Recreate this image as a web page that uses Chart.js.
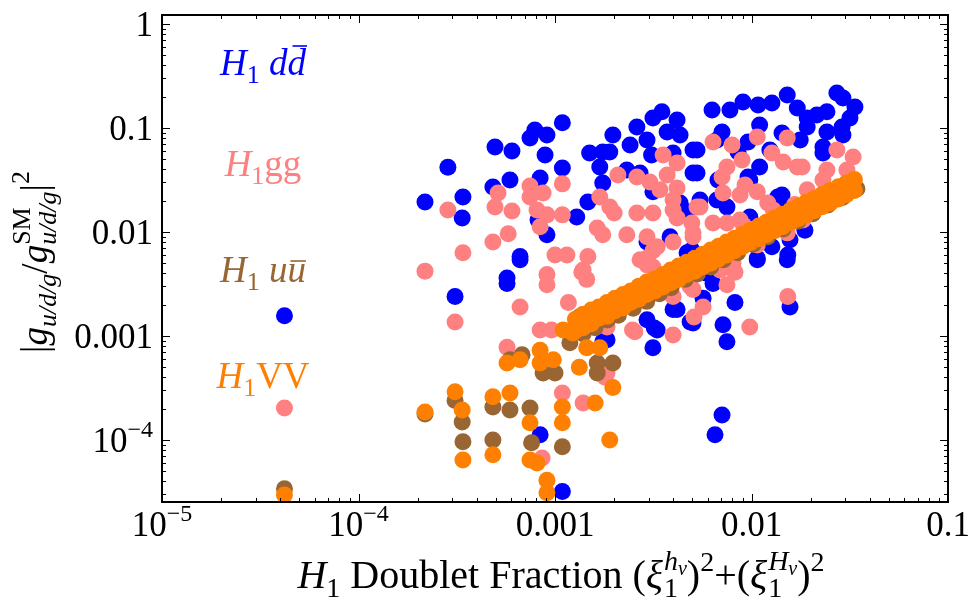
<!DOCTYPE html>
<html>
<head>
<meta charset="utf-8">
<script src="https://cdn.jsdelivr.net/npm/chart.js@4.4.1/dist/chart.umd.min.js"></script>
<style>
  html, body { margin: 0; padding: 0; background: #fff; }
  #wrap { width: 971px; height: 603px; }
</style>
</head>
<body>
<div id="wrap"><canvas id="chart" width="971" height="603"></canvas></div>
<script>
// axis ranges and tick labels
const xMin = 1e-5, xMax = 0.1;
const yMin = 2.53e-5, yMax = 1.22;
const xTickValues = [1e-5, 1e-4, 1e-3, 1e-2, 1e-1];
const xTickLabels = ['10^\u22125', '10^\u22124', '0.001', '0.01', '0.1'];
const yTickValues = [1e-4, 1e-3, 1e-2, 1e-1, 1];
const yTickLabels = ['10^\u22124', '0.001', '0.01', '0.1', '1'];

const seriesColors = ['#0000ff', '#ff8080', '#996633', '#ff8000'];

// [doublet fraction, |g/g_SM|^2]  -- H1 d dbar
const ddPoints = [
  [4.2e-5, 1.56e-3], [2.18e-4, 0.0194], [2.85e-4, 0.042], [3.4e-4, 0.0217], [3.37e-4, 0.0136],
  [3.1e-4, 2.4e-3], [4.95e-4, 0.0657], [6.04e-4, 0.0601], [4.83e-4, 0.0271], [5.9e-4, 0.0316],
  [7.9e-4, 0.0957], [9.1e-4, 0.0857], [7.46e-4, 0.0801], [1.09e-3, 0.112], [8.9e-4, 0.055],
  [1.09e-3, 0.0413], [8.4e-4, 0.0331], [9.1e-4, 0.0094], [6.64e-4, 5.8e-3], [5.7e-4, 3.6e-3],
  [8.2e-4, 0.013], [1.29e-3, 0.0139], [1.47e-3, 0.0194], [1.5e-3, 0.0575], [1.75e-3, 0.0588],
  [1.9e-3, 0.0588], [1.69e-3, 0.0422], [1.75e-3, 0.0296], [1.97e-3, 0.0857], [2.61e-3, 0.102],
  [2.41e-3, 0.0687], [2.94e-3, 0.0767], [3.15e-3, 0.125], [3.5e-3, 0.143], [4.18e-3, 0.119],
  [3.72e-3, 0.0916], [4.33e-3, 0.0857], [3.1e-3, 0.055], [2.32e-3, 0.0395], [2.71e-3, 0.0369],
  [3.15e-3, 0.0243], [3.99e-3, 0.0575], [4.33e-3, 0.019], [5.04e-3, 0.0614], [5.04e-3, 0.0369],
  [4.7e-3, 0.0156], [2.94e-3, 8.0e-3], [3.85e-3, 9.0e-3], [4.7e-3, 6.3e-3], [5.7e-4, 3.2e-3],
  [6.64e-4, 5.4e-3], [8.4e-4, 1.12e-4], [1.09e-3, 3.2e-5], [1.84e-3, 9.2e-4], [3.15e-3, 7.7e-4],
  [2.94e-3, 1.43e-3], [3.99e-3, 1.8e-3], [4.87e-3, 1.36e-3], [3.2e-3, 1.19e-3], [6.3e-3, 0.149],
  [7.77e-3, 0.149], [9.05e-3, 0.178], [0.0108, 0.166], [0.0127, 0.174], [0.0152, 0.208],
  [0.0171, 0.156], [0.0192, 0.125], [0.0215, 0.133], [0.0242, 0.143], [0.0272, 0.217],
  [0.0292, 0.194], [0.0336, 0.159], [0.0317, 0.125], [0.0289, 0.102], [0.0242, 0.0916],
  [0.0231, 0.0657], [0.0292, 0.0857], [0.0192, 0.102], [0.0177, 0.0767], [0.0143, 0.0895],
  [0.011, 0.107], [9.6e-3, 0.0733], [8.54e-3, 0.0588], [7.08e-3, 0.0916], [6.67e-3, 0.0767],
  [5.28e-3, 0.0614], [5.28e-3, 0.0369], [6.75e-3, 0.0316], [9.6e-3, 0.0338], [0.011, 0.0422],
  [0.0124, 0.0614], [5.47e-3, 0.0203], [6.67e-3, 0.0203], [7.5e-3, 0.0174], [9.8e-3, 0.0139],
  [0.0136, 0.0217], [0.014, 0.0174], [0.0187, 0.0104], [0.0157, 8.4e-3], [0.0153, 6.0e-3],
  [0.0127, 7.2e-3], [0.0107, 5.6e-3], [6.37e-3, 3.2e-3], [8.24e-3, 2.1e-3], [7.16e-3, 1.28e-3],
  [7.5e-3, 8.8e-4], [0.0157, 1.9e-3], [7.08e-3, 1.74e-4], [6.52e-3, 1.12e-4], [0.0107, 5.4e-3],
  [0.0152, 5.4e-3], [5.67e-3, 2.3e-3], [5.04e-3, 1.33e-3], [4.97e-3, 6.7e-3], [5.9e-3, 4.0e-3],
  [3.31e-3, 1.14e-3], [1.75e-3, 8.8e-4], [4.18e-3, 1.8e-3], [0.0143, 0.0227], [9.8e-3, 0.0316],
  [0.0231, 0.0575]
];

// H1 gg
const ggPoints = [
  [4.2e-5, 2.03e-4], [2.18e-4, 4.2e-3], [2.85e-4, 0.0163], [5.13e-4, 0.0237], [4.95e-4, 0.0174],
  [6.04e-4, 0.0159], [4.83e-4, 8.0e-3], [5.78e-4, 9.6e-3], [3.4e-4, 6.3e-3], [7.46e-4, 0.0277],
  [8.7e-4, 0.0237], [1.09e-3, 0.029], [7.46e-4, 0.0217], [8.1e-4, 0.0163], [9.1e-4, 0.0146],
  [1.09e-3, 0.0146], [8.4e-4, 0.0112], [1.0e-3, 6.0e-3], [9.1e-4, 3.9e-3], [1.47e-3, 5.8e-3],
  [1.37e-3, 4.1e-3], [1.69e-3, 0.0217], [1.9e-3, 0.0174], [2.0e-3, 0.0152], [1.64e-3, 0.0109],
  [1.75e-3, 9.4e-3], [2.32e-3, 9.4e-3], [2.09e-3, 0.0353], [2.61e-3, 0.0338], [3.04e-3, 0.0303],
  [3.42e-3, 0.0254], [3.55e-3, 0.055], [4.18e-3, 0.0461], [3.72e-3, 0.0353], [4.18e-3, 0.0265],
  [3.99e-3, 0.0203], [3.99e-3, 0.0163], [4.18e-3, 0.0136], [2.61e-3, 0.0152], [3.15e-3, 0.0152],
  [2.94e-3, 9.0e-3], [3.31e-3, 7.2e-3], [2.94e-3, 5.6e-3], [3.15e-3, 4.6e-3], [3.99e-3, 8.0e-3],
  [5.04e-3, 9.8e-3], [5.28e-3, 0.0174], [3.1e-4, 1.36e-3], [6.64e-4, 1.9e-3], [9.1e-4, 3.1e-3],
  [1.17e-3, 2.1e-3], [5.7e-4, 7.8e-4], [8.4e-4, 1.14e-3], [9.6e-4, 1.14e-3], [1.09e-3, 2.83e-4],
  [1.39e-3, 2.27e-4], [1.8e-3, 4.0e-4], [8.6e-4, 6.7e-5], [2.48e-3, 1.14e-3], [3.99e-3, 1.02e-3],
  [1.39e-3, 4.3e-3], [1.45e-3, 3.5e-3], [2.94e-3, 4.8e-3], [6.37e-3, 0.0733], [7.96e-3, 0.0687],
  [0.0107, 0.0819], [0.0152, 0.0801], [0.0127, 0.0575], [0.0145, 0.0471], [0.0171, 0.0422],
  [0.0181, 0.0422], [7.5e-3, 0.0422], [8.95e-3, 0.0492], [7.08e-3, 0.0338], [7.16e-3, 0.0237],
  [8.74e-3, 0.0227], [0.0107, 0.0243], [9.27e-3, 0.0283], [5.47e-3, 0.0174], [4.97e-3, 0.0122],
  [6.37e-3, 0.0122], [7.5e-3, 0.0122], [8.74e-3, 0.013], [0.0121, 0.019], [0.0129, 0.0163],
  [0.0163, 0.0163], [0.0183, 0.013], [0.0152, 9.8e-3], [0.0107, 7.5e-3], [8.05e-3, 5.0e-3],
  [5.28e-3, 4.0e-3], [0.0272, 0.0614], [0.0329, 0.0526], [0.0242, 0.0395], [0.0231, 0.0316],
  [0.0192, 0.0254], [0.0306, 0.0395], [0.0282, 0.0243], [0.0153, 2.4e-3], [9.8e-3, 1.22e-3],
  [7.5e-3, 3.1e-3], [8.24e-3, 4.1e-3], [5.67e-3, 1.9e-3], [5.1e-3, 1.52e-3], [5.04e-3, 2.8e-3],
  [2.55e-3, 1.1e-3], [1.84e-3, 1.22e-3], [1.84e-3, 4.4e-4], [1.15e-3, 6.0e-3],
  [2.71e-3, 5.4e-3], [3.15e-3, 6.6e-3], [5.04e-3, 9.0e-3], [6.92e-3, 4.3e-3], [4.87e-3, 3.0e-3],
  [3.99e-3, 2.4e-3], [9.1e-3, 0.0116], [0.0103, 0.0106], [0.0118, 0.0101], [0.0133, 0.0123],
  [0.0166, 0.0184]
];

// H1 u ubar
const uuPoints = [
  [4.2e-5, 3.4e-5], [2.18e-4, 1.78e-4], [3.1e-4, 2.4e-4], [3.37e-4, 1.49e-4], [3.4e-4, 9.6e-5],
  [4.83e-4, 2.07e-4], [5.9e-4, 1.94e-4], [4.83e-4, 1.0e-4], [5.9e-4, 5.9e-4], [6.8e-4, 6.6e-4],
  [7.46e-4, 2.03e-4], [7.6e-4, 9.4e-5], [8.7e-4, 4.4e-4], [1.0e-3, 4.4e-4], [1.09e-3, 8.6e-5],
  [1.19e-3, 8.6e-4], [1.64e-3, 5.5e-4], [1.97e-3, 5.5e-4], [1.64e-3, 4.4e-4], [1.33e-3, 1.52e-3],
  [1.39e-3, 1.05e-3], [1.6e-3, 1.2e-3], [1.85e-3, 1.42e-3], [2.1e-3, 1.58e-3], [2.5e-3, 1.85e-3],
  [2.93e-3, 2.15e-3], [3.4e-3, 2.55e-3], [3.9e-3, 2.9e-3], [4.6e-3, 3.5e-3], [5.3e-3, 3.95e-3],
  [6.2e-3, 4.6e-3], [7.2e-3, 5.4e-3], [8.5e-3, 6.3e-3], [0.0102, 7.6e-3], [0.0121, 9.0e-3],
  [0.0145, 0.0107], [0.0172, 0.0127], [0.0205, 0.015], [0.0245, 0.0182], [0.029, 0.0215],
  [0.0344, 0.026]
];

// H1 VV
const vvPoints = [
  [4.2e-5, 2.96e-5], [2.18e-4, 1.86e-4], [3.1e-4, 2.9e-4], [3.37e-4, 1.94e-4], [3.4e-4, 6.4e-5],
  [4.83e-4, 2.6e-4], [5.9e-4, 2.83e-4], [4.83e-4, 7.2e-5], [5.7e-4, 5.5e-4], [6.64e-4, 5.9e-4],
  [7.46e-4, 1.46e-4], [7.46e-4, 6.4e-5], [8.1e-4, 6.0e-5], [9.1e-4, 4.1e-5], [9.1e-4, 3.1e-5],
  [8.4e-4, 7.3e-4], [8.4e-4, 5.5e-4], [9.8e-4, 5.9e-4], [1.09e-3, 2.07e-4], [1.09e-3, 1.46e-4],
  [1.1e-3, 1.14e-3], [1.23e-3, 1.07e-3], [1.45e-3, 7.7e-4], [1.69e-3, 7.7e-4], [1.33e-3, 5.0e-4],
  [1.97e-3, 3.2e-4], [1.9e-3, 1.0e-4], [1.6e-3, 2.27e-4],
  [1.27e-3, 1.45e-3], [1.27e-3, 1.12e-3], [1.39e-3, 1.62e-3], [1.39e-3, 1.2e-3],
  [1.53e-3, 1.78e-3], [1.53e-3, 1.31e-3], [1.67e-3, 1.9e-3], [1.67e-3, 1.48e-3],
  [1.84e-3, 2.1e-3], [1.84e-3, 1.55e-3], [2.02e-3, 2.3e-3], [2.02e-3, 1.75e-3],
  [2.22e-3, 2.5e-3], [2.22e-3, 1.86e-3], [2.43e-3, 2.7e-3], [2.43e-3, 2.1e-3],
  [2.67e-3, 3.0e-3], [2.67e-3, 2.25e-3], [2.93e-3, 3.3e-3], [2.93e-3, 2.5e-3],
  [3.22e-3, 3.55e-3], [3.22e-3, 2.7e-3], [3.54e-3, 3.9e-3], [3.54e-3, 2.95e-3],
  [3.88e-3, 4.3e-3], [3.88e-3, 3.25e-3], [4.26e-3, 4.7e-3], [4.26e-3, 3.5e-3],
  [4.68e-3, 5.1e-3], [4.68e-3, 3.9e-3], [5.14e-3, 5.6e-3], [5.14e-3, 4.2e-3],
  [5.64e-3, 6.1e-3], [5.64e-3, 4.6e-3], [6.2e-3, 6.7e-3], [6.2e-3, 5.0e-3],
  [6.8e-3, 7.3e-3], [6.8e-3, 5.5e-3], [7.47e-3, 8.0e-3], [7.47e-3, 6.0e-3],
  [8.2e-3, 8.7e-3], [8.2e-3, 6.6e-3], [9.0e-3, 9.5e-3], [9.0e-3, 7.2e-3],
  [9.89e-3, 0.0104], [9.89e-3, 7.9e-3], [0.0109, 0.0114], [0.0109, 8.6e-3],
  [0.0119, 0.0124], [0.0119, 9.4e-3], [0.0131, 0.0136], [0.0131, 0.0103],
  [0.0144, 0.0148], [0.0144, 0.0112], [0.0158, 0.0162], [0.0158, 0.0123],
  [0.0173, 0.0177], [0.0173, 0.0134], [0.019, 0.0193], [0.019, 0.0146],
  [0.0209, 0.021], [0.0209, 0.016], [0.0229, 0.0229], [0.0229, 0.0175],
  [0.0252, 0.025], [0.0252, 0.019], [0.0277, 0.0272], [0.0277, 0.0208],
  [0.0304, 0.0296], [0.0304, 0.0228], [0.0334, 0.032], [0.0334, 0.025],
  [1.33e-3, 1.3e-3], [1.6e-3, 1.62e-3], [1.93e-3, 1.9e-3], [2.32e-3, 2.3e-3], [2.8e-3, 2.72e-3],
  [3.38e-3, 3.2e-3], [4.07e-3, 3.9e-3], [4.9e-3, 4.6e-3], [5.9e-3, 5.5e-3], [7.1e-3, 6.7e-3],
  [8.6e-3, 7.8e-3], [0.0104, 9.5e-3], [0.0125, 0.0113], [0.0151, 0.0134], [0.0182, 0.0162],
  [0.022, 0.0192], [0.0264, 0.0232], [0.0318, 0.0275]
];

const SERIF = '"Liberation Serif", "Times New Roman", serif';
const fnt = (size, italic) => (italic ? 'italic ' : '') + size + 'px ' + SERIF;

// text runs with sub/superscripts
function measureRuns(ctx, runs) {
  let w = 0;
  for (const r of runs) {
    if (r.stack) {
      r.w = Math.max(...r.stack.map(s => measureRuns(ctx, s)));
    } else {
      ctx.font = r.font;
      r.w = ctx.measureText(r.t).width + (r.pad || 0);
    }
    w += r.w;
  }
  return w;
}
function paintRuns(ctx, runs, x, y) {
  let cx = x;
  for (const r of runs) {
    if (r.stack) {
      r.stack.forEach(s => paintRuns(ctx, s, cx, y));
    } else {
      ctx.font = r.font;
      ctx.fillText(r.t, cx, y + (r.dy || 0));
      if (r.over) {
        ctx.save();
        ctx.strokeStyle = ctx.fillStyle;
        ctx.lineWidth = 1.6;
        ctx.beginPath();
        ctx.moveTo(cx + r.over[0], y - r.over[2]);
        ctx.lineTo(cx + r.w + r.over[1], y - r.over[2]);
        ctx.stroke();
        ctx.restore();
      }
    }
    cx += r.w;
  }
}
function drawRuns(ctx, runs, x, y, align) {
  const w = measureRuns(ctx, runs);
  const x0 = align === 'center' ? x - w / 2 : align === 'right' ? x - w : x;
  paintRuns(ctx, runs, x0, y);
}
function tickRuns(label) {
  const parts = label.split('^');
  const runs = [{ t: parts[0], font: fnt(35) }];
  if (parts[1]) runs.push({ t: parts[1], font: fnt(24), dy: -15 });
  return runs;
}

const LS = 37, SS = 26;
const seriesLabels = [
  [{ t: 'H', font: fnt(LS, true) }, { t: '1', font: fnt(SS), dy: 8 }, { t: ' ', font: fnt(LS) },
   { t: 'd', font: fnt(LS, true) }, { t: 'd', font: fnt(LS, true), over: [5, 1, 29] }],
  [{ t: 'H', font: fnt(LS, true) }, { t: '1', font: fnt(SS), dy: 8 }, { t: 'gg', font: fnt(LS) }],
  [{ t: 'H', font: fnt(LS, true) }, { t: '1', font: fnt(SS), dy: 8 }, { t: ' ', font: fnt(LS) },
   { t: 'u', font: fnt(LS, true) }, { t: 'u', font: fnt(LS, true), over: [3, 0, 21] }],
  [{ t: 'H', font: fnt(LS, true) }, { t: '1', font: fnt(SS), dy: 8 }, { t: 'VV', font: fnt(LS) }]
];
const seriesLabelBase = [75, 176, 282, 388];

const TS = 40, TSS = 28;
const xTitle = [
  { t: 'H', font: fnt(TS, true) }, { t: '1', font: fnt(TSS), dy: 9 },
  { t: ' Doublet Fraction (', font: fnt(TS) }, { t: '\u03be', font: fnt(TS, true), pad: 1 },
  { stack: [[{ t: 'h', font: fnt(TSS, true), dy: -18 }, { t: '\u03bd', font: fnt(20, true), dy: -13 }],
            [{ t: '1', font: fnt(TSS), dy: 9 }]] },
  { t: ')', font: fnt(TS) }, { t: '2', font: fnt(TSS), dy: -17 },
  { t: '+(', font: fnt(TS) }, { t: '\u03be', font: fnt(TS, true), pad: 1 },
  { stack: [[{ t: 'H', font: fnt(TSS, true), dy: -18 }, { t: '\u03bd', font: fnt(20, true), dy: -13 }],
            [{ t: '1', font: fnt(TSS), dy: 9 }]] },
  { t: ')', font: fnt(TS) }, { t: '2', font: fnt(TSS), dy: -17 }
];
const YS = 37, YSS = 26;
const yTitle = [
  { t: '|', font: fnt(YS) }, { t: 'g', font: fnt(YS, true) },
  { t: 'u/d/g', font: fnt(YSS, true), dy: 9 }, { t: '/', font: fnt(YS) },
  { t: 'g', font: fnt(YS, true) },
  { stack: [[{ t: 'SM', font: fnt(YSS), dy: -17 }], [{ t: 'u/d/g', font: fnt(YSS, true), dy: 9 }]] },
  { t: '|', font: fnt(YS) }, { t: '2', font: fnt(YSS), dy: -18 }
];

const framePlugin = {
  id: 'frame',
  afterDraw(chart) {
    const ctx = chart.ctx;
    const xs = chart.scales.x, ys = chart.scales.y;
    const { left, right, top, bottom } = chart.chartArea;
    ctx.save();
    ctx.strokeStyle = '#000';
    ctx.lineWidth = 1;
    const seg = (a, b, c, d) => { ctx.beginPath(); ctx.moveTo(a, b); ctx.lineTo(c, d); ctx.stroke(); };
    for (let d = -5; d <= -1; d++) {
      for (let m = 1; m <= 9; m++) {
        const v = m * Math.pow(10, d);
        if (v < xMin * 0.999 || v > xMax * 1.001) continue;
        const px = Math.round(xs.getPixelForValue(v)) + 0.5;
        const len = m === 1 ? 8 : 4;
        seg(px, bottom, px, bottom - len);
        seg(px, top, px, top + len);
      }
    }
    for (let d = -5; d <= 0; d++) {
      for (let m = 1; m <= 9; m++) {
        const v = m * Math.pow(10, d);
        if (v < yMin || v > yMax) continue;
        const py = Math.round(ys.getPixelForValue(v)) + 0.5;
        const len = m === 1 ? 8 : 4;
        seg(left, py, left + len, py);
        seg(right, py, right - len, py);
      }
    }
    ctx.lineWidth = 2;
    ctx.strokeRect(left, top, right - left, bottom - top);

    ctx.fillStyle = '#000';
    ctx.textBaseline = 'alphabetic';
    xTickValues.forEach((v, i) => {
      drawRuns(ctx, tickRuns(xTickLabels[i]), xs.getPixelForValue(v), bottom + 34, 'center');
    });
    yTickValues.forEach((v, i) => {
      drawRuns(ctx, tickRuns(yTickLabels[i]), left - 9, ys.getPixelForValue(v) + 12, 'right');
    });

    drawRuns(ctx, xTitle, 561, 588, 'center');
    ctx.save();
    ctx.translate(47, 262);
    ctx.rotate(-Math.PI / 2);
    drawRuns(ctx, yTitle, 0, 0, 'center');
    ctx.restore();

    seriesLabels.forEach((runs, i) => {
      ctx.fillStyle = seriesColors[i];
      drawRuns(ctx, runs, 263, seriesLabelBase[i], 'center');
    });
    ctx.restore();
  }
};

const toXY = pts => pts.map(p => ({ x: p[0], y: p[1] }));
const mkSet = (pts, color, order) => ({
  data: toXY(pts),
  backgroundColor: color,
  borderWidth: 0,
  pointRadius: 8.5,
  pointHoverRadius: 8.5,
  clip: 0,
  order: order
});

new Chart(document.getElementById('chart'), {
  type: 'scatter',
  data: {
    datasets: [
      mkSet(ddPoints, seriesColors[0], 3),
      mkSet(ggPoints, seriesColors[1], 2),
      mkSet(uuPoints, seriesColors[2], 1),
      mkSet(vvPoints, seriesColors[3], 0)
    ]
  },
  options: {
    responsive: false,
    animation: false,
    devicePixelRatio: 1,
    events: [],
    layout: { padding: { top: 15, right: 23, left: 0, bottom: 0 } },
    plugins: { legend: { display: false }, tooltip: { enabled: false } },
    scales: {
      x: {
        type: 'logarithmic', min: xMin, max: xMax,
        ticks: { display: false }, grid: { display: false }, border: { display: false },
        afterFit: s => { s.height = 101; }
      },
      y: {
        type: 'logarithmic', min: yMin, max: yMax,
        ticks: { display: false }, grid: { display: false }, border: { display: false },
        afterFit: s => { s.width = 162; }
      }
    }
  },
  plugins: [framePlugin]
});
</script>
</body>
</html>
